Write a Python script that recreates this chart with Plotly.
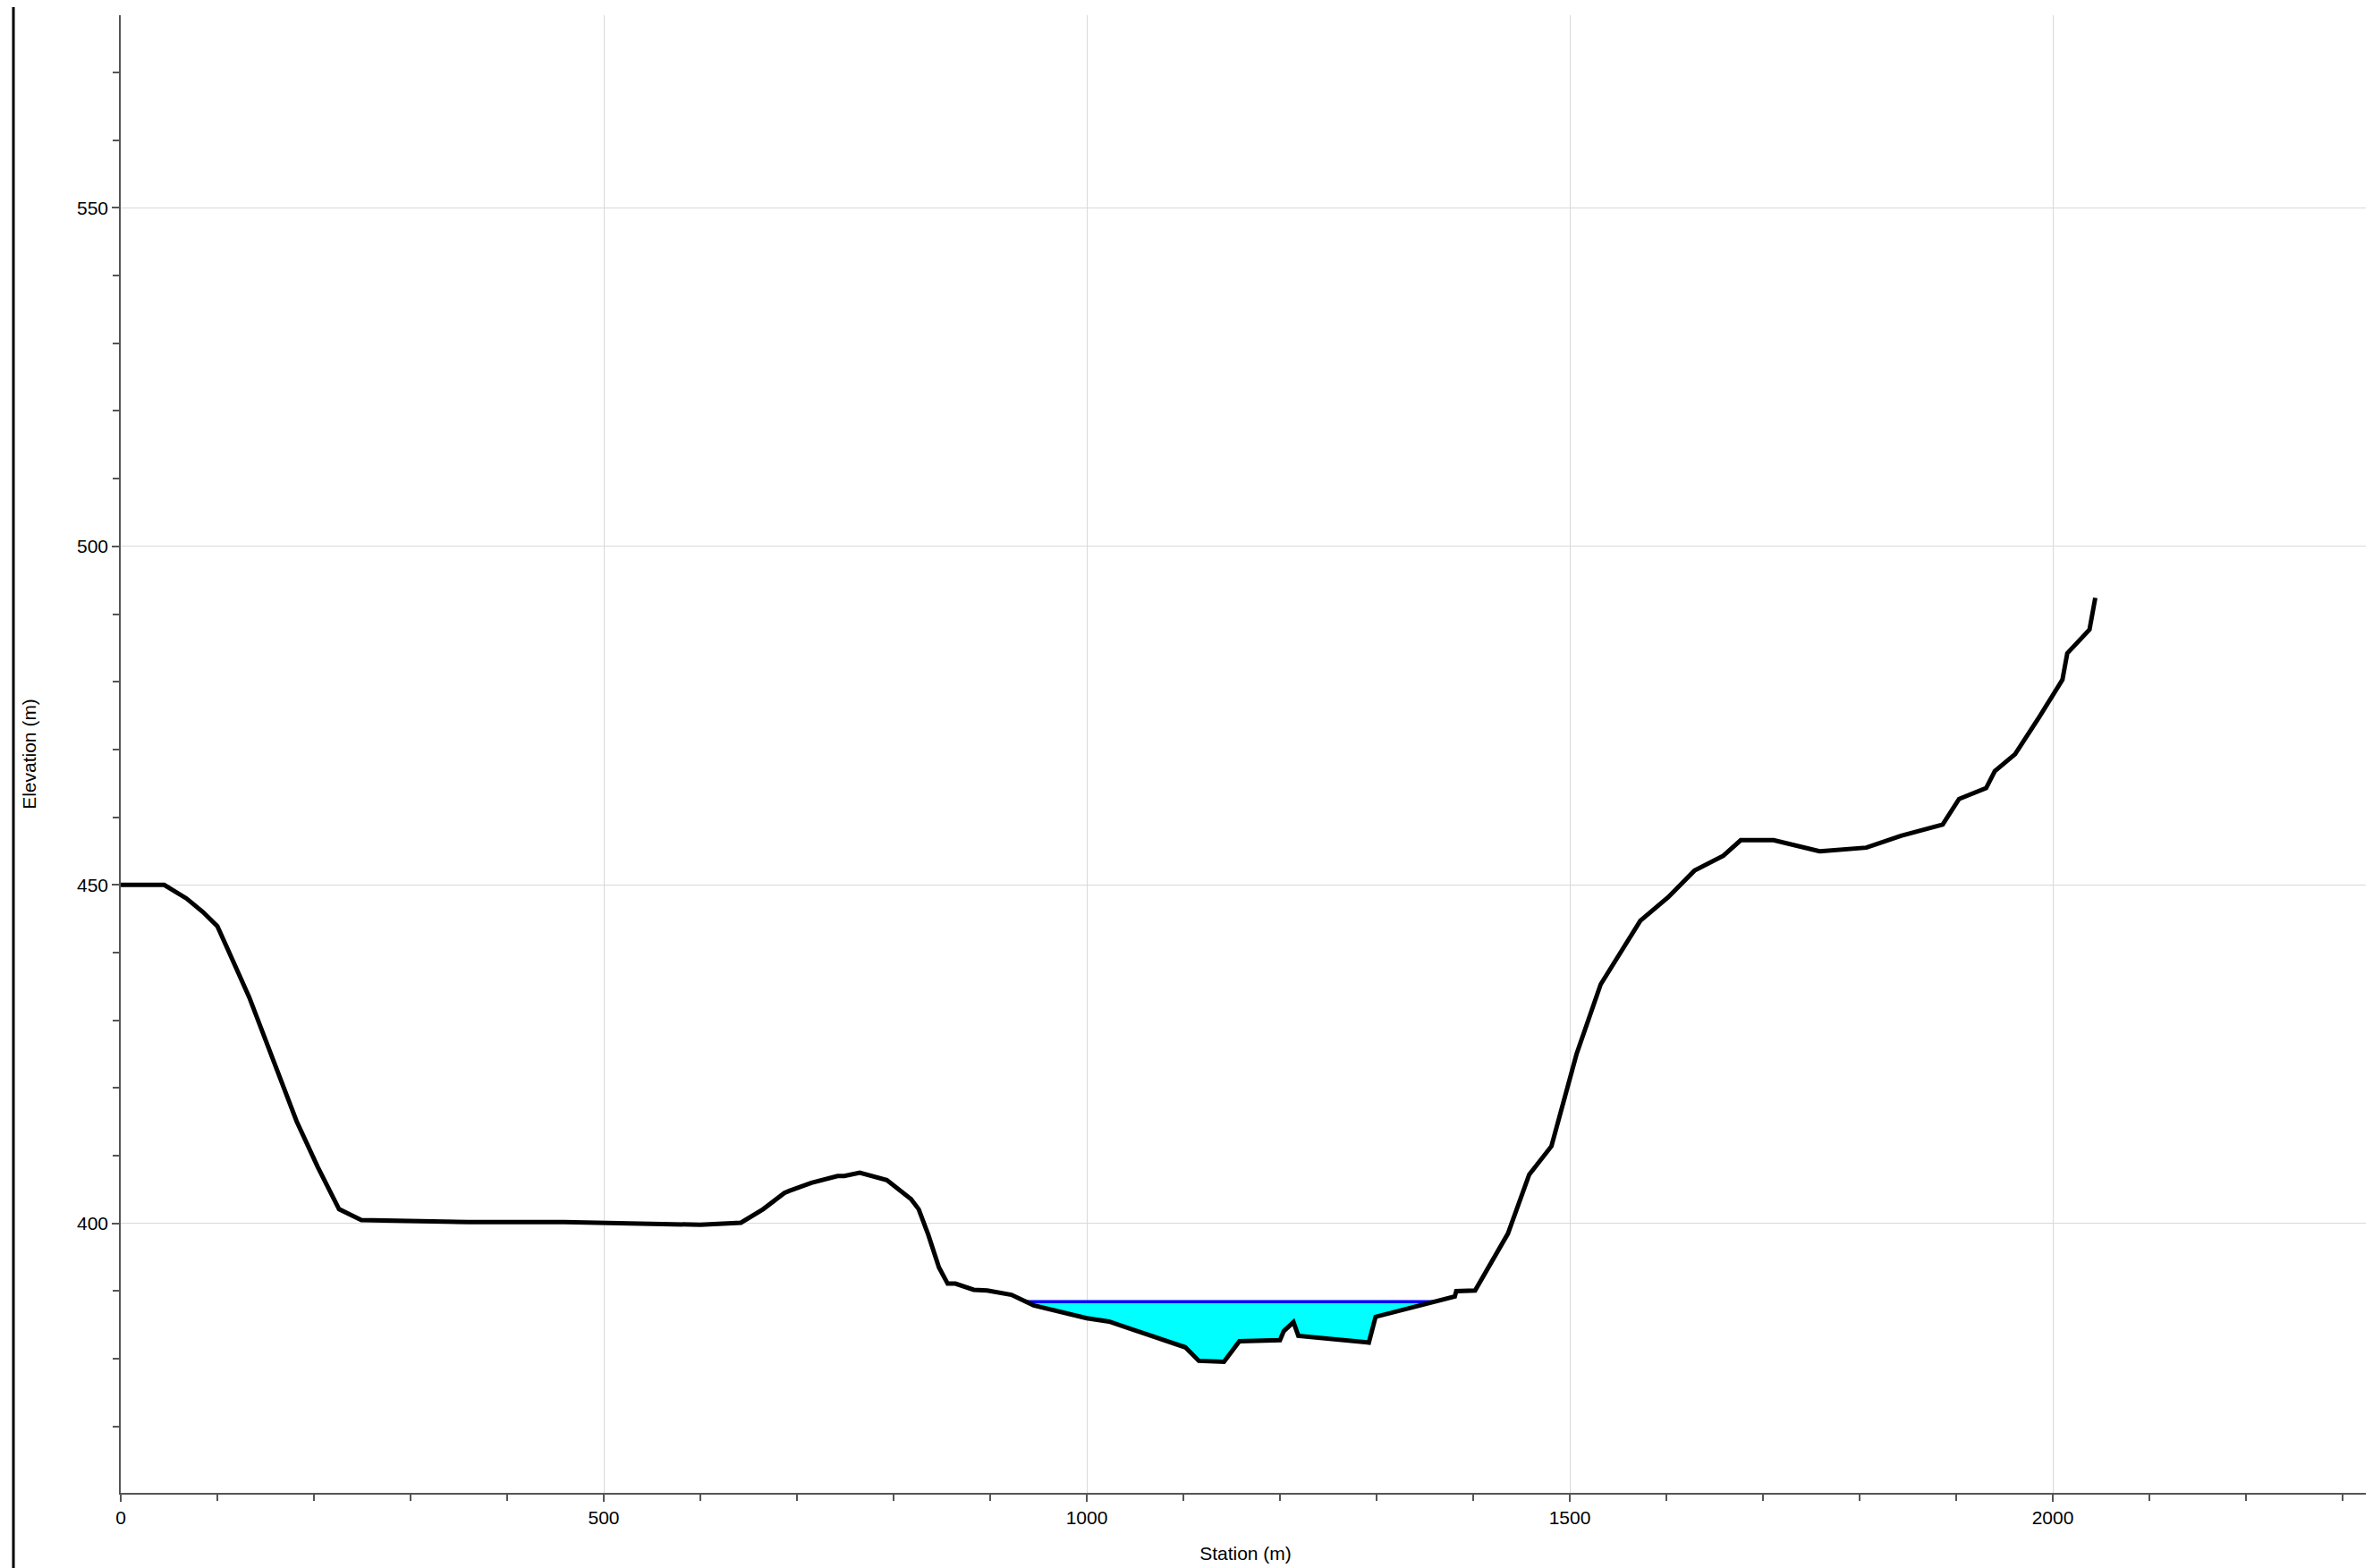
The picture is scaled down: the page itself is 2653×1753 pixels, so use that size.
import numpy as np
import plotly.graph_objects as go

# Ground profile (station m, elevation m)
station = [0, 45, 68, 85, 100, 133, 182, 204, 226, 249, 360, 459, 600, 642, 665, 687, 692,
           715, 742, 749, 765, 793, 818, 826, 836, 847, 856, 864, 883, 897, 922, 945,
           1000, 1023, 1102, 1116, 1142, 1158, 1200, 1204, 1214, 1219, 1292, 1299, 1381,
           1382.5, 1402, 1425, 1436, 1458, 1481, 1507, 1532, 1573, 1602, 1629, 1659, 1677,
           1711, 1759, 1807, 1843, 1886, 1903, 1931, 1940, 1961, 1986, 2010, 2015, 2038, 2044]
elevation = [450.0, 450.0, 448.0, 446.0, 443.9, 433.4, 415.1, 408.3, 402.1, 400.5, 400.2, 400.2,
             399.8, 400.1, 402.1, 404.5, 404.8, 406.0, 407.0, 407.0, 407.5, 406.4, 403.6, 402.1,
             398.3, 393.5, 391.1, 391.1, 390.2, 390.1, 389.45, 387.9, 386.0, 385.5, 381.7, 379.7,
             379.55, 382.6, 382.75, 384.1, 385.4, 383.4, 382.4, 386.2, 389.2, 390.0, 390.1, 395.8,
             398.5, 407.2, 411.4, 425.0, 435.3, 444.7, 448.2, 452.1, 454.3, 456.6, 456.6, 454.95,
             455.5, 457.25, 458.9, 462.7, 464.3, 466.8, 469.3, 474.8, 480.3, 484.2, 487.7, 492.4]

water_surface = 388.44
channel_range = (900, 1400)  # search window for main channel banks

# ---- compute wetted section from data ----
st = np.array(station, dtype=float)
el = np.array(elevation, dtype=float)
mask = (st >= channel_range[0]) & (st <= channel_range[1])
idx = np.where(mask)[0]
left_x = None
for i in idx[:-1]:
    if el[i] >= water_surface > el[i + 1]:
        left_x = st[i] + (el[i] - water_surface) / (el[i] - el[i + 1]) * (st[i + 1] - st[i])
        li = i
        break
right_x = None
for i in idx[::-1][1:]:
    if el[i] < water_surface <= el[i + 1]:
        right_x = st[i] + (water_surface - el[i]) / (el[i + 1] - el[i]) * (st[i + 1] - st[i])
        ri = i
        break
poly_x = [left_x] + list(st[li + 1:ri + 1]) + [right_x]
poly_y = [water_surface] + list(el[li + 1:ri + 1]) + [water_surface]

fig = go.Figure()
fig.add_trace(go.Scatter(x=poly_x + [left_x], y=poly_y + [water_surface], mode="lines",
                         fill="toself", fillcolor="#00FFFF", line=dict(width=0),
                         hoverinfo="skip", showlegend=False))
fig.add_trace(go.Scatter(x=[left_x, right_x], y=[water_surface, water_surface], mode="lines",
                         line=dict(color="#0000FF", width=3.5), showlegend=False, name="WS"))
fig.add_trace(go.Scatter(x=station, y=elevation, mode="lines",
                         line=dict(color="black", width=5), showlegend=False, name="Ground"))

# page body has an 8 px margin; figure sized so it ends at the window edge
OFF = 8
W, H = 2653 - OFF, 1753 - OFF
L, R, T, B = 135 - OFF, 3, 17 - OFF, 84
pw = W - L - R
ph = H - T - B

axis_common = dict(
    showline=True, linecolor="#555555", linewidth=1.5,
    showgrid=True, gridcolor="#d9d9d9", gridwidth=1,
    ticks="outside", ticklen=8, tickcolor="#555555", tickwidth=1.5,
    zeroline=False, tickfont=dict(size=21, color="black"),
)

fig.update_layout(
    width=W, height=H,
    margin=dict(l=L, r=R, t=T, b=B, autoexpand=False),
    paper_bgcolor="white", plot_bgcolor="white",
    font=dict(family="Liberation Sans, Arial, sans-serif", size=21, color="black"),
    xaxis=dict(range=[0, 2328.7], dtick=500, tick0=0,
               minor=dict(dtick=100, ticks="outside", ticklen=7, tickcolor="#555555", showgrid=False),
               title=dict(text="Station (m)", font=dict(size=21), standoff=22),
               automargin=False, **axis_common),
    yaxis=dict(range=[360.2, 578.45], dtick=50, tick0=0,
               minor=dict(dtick=10, ticks="outside", ticklen=7, tickcolor="#555555", showgrid=False),
               title=dict(text="Elevation (m)", font=dict(size=21), standoff=40),
               automargin=False, **axis_common),
    shapes=[dict(type="line", xref="paper", yref="paper",
                 x0=(15 - OFF - L) / pw, x1=(15 - OFF - L) / pw,
                 y0=-B / ph, y1=1 + T / ph,
                 line=dict(color="black", width=3))],
)

fig.write_html("out.html")
